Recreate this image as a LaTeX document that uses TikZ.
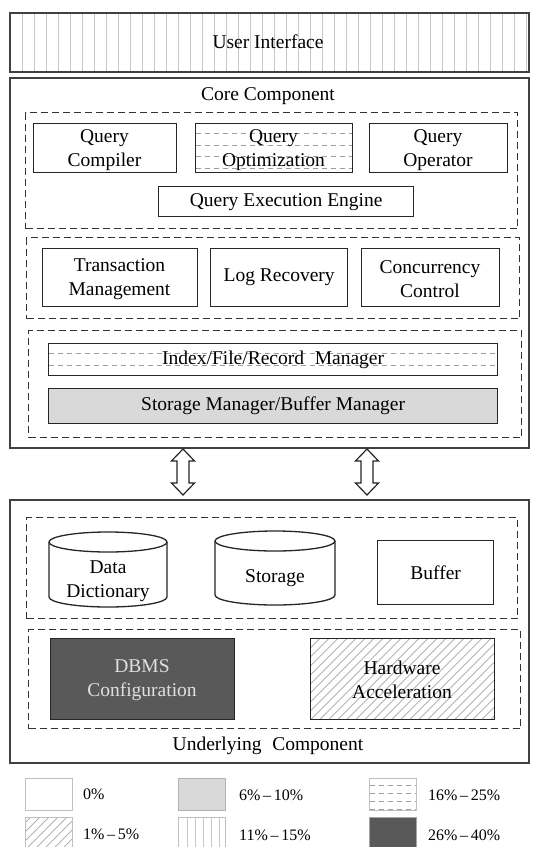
\documentclass[tikz,border=0pt]{standalone}
\usepackage{fontspec}
\setmainfont{Liberation Serif}
\definecolor{darkfill}{HTML}{595959}
\definecolor{lightfill}{HTML}{D9D9D9}
\begin{document}
\begin{tikzpicture}[x=1pt,y=-1pt,
  every node/.style={font=\fontsize{19.5}{24}\selectfont, align=center, inner sep=0pt},
  box/.style={draw=black!85, line width=1.3pt, fill=white, anchor=north west},
  twoline/.style={text depth=3pt},
  outer/.style={draw=black!75, line width=1.7pt, anchor=north west},
  group/.style={draw=black!80, line width=1.2pt, dash pattern=on 7pt off 4pt, anchor=north west},
  legbox/.style={draw=black!25, line width=1pt, fill=white, anchor=north west,
                 minimum width=47pt, minimum height=32pt},
  legtext/.style={anchor=west, font=\fontsize{16}{18}\selectfont},
  vlines/.style={path picture={\foreach \k in {1,...,60}{
      \draw[black!22, line width=0.9pt]
        ([xshift=\k*#1+1pt]path picture bounding box.south west) --
        ([xshift=\k*#1+1pt]path picture bounding box.north west);}}},
  hlines/.style={path picture={\foreach \k in {1,...,6}{
      \draw[black!38, line width=0.8pt, dash pattern=on 5pt off 4pt]
        ([yshift=-\k*#1+1.5pt]path picture bounding box.north west) --
        ([yshift=-\k*#1+1.5pt]path picture bounding box.north east);}}},
  hatch/.style={path picture={\foreach \k in {-30,...,30}{
      \draw[black!35, line width=0.7pt]
        ([xshift=\k*#1]path picture bounding box.south west) -- ++(120pt,120pt);}}},
  cyl/.style={draw=black!85, line width=1.3pt, fill=white},
  dblarrow/.style={draw=black!85, line width=1.2pt, fill=white}
]
\useasboundingbox (0,0) rectangle (538,847);

% top layer
\node[outer, vlines=12pt, minimum width=519pt, minimum height=59pt] (ui) at (9,12) {};
\node (uitext) at (268,42) {User Interface};

% core component
\node[outer, minimum width=519pt, minimum height=370pt] (core) at (9,77) {};
\node (coretitle) at (268,96) {Core Component};

\node[group, minimum width=492pt, minimum height=116pt] (g1) at (25,112) {};
\node[box, minimum width=143pt, minimum height=49pt] (qc) at (33,123) {};
\node (qct) at (104.5,150) {Query\\Compiler};
\node[box, hlines=11.5pt, minimum width=157pt, minimum height=49pt] (qo) at (195,123) {};
\node (qot) at (273.5,150) {Query\\Optimization};
\node[box, minimum width=138pt, minimum height=49pt] (qop) at (369,123) {};
\node (qopt) at (438,150) {Query\\Operator};
\node[box, minimum width=255pt, minimum height=30pt] (qee) at (158,186) {Query Execution Engine};

\node[group, minimum width=493pt, minimum height=81pt] (g2) at (26,237) {};
\node[box, minimum width=155pt, minimum height=58pt] (tm) at (42,248) {};
\node (tmt) at (119.5,279) {Transaction\\Management};
\node[box, minimum width=137pt, minimum height=58pt] (lr) at (210,248) {Log Recovery};
\node[box, minimum width=138pt, minimum height=58pt] (cc) at (361,248) {};
\node (cct) at (430,279) {Concurrency\\Control};

\node[group, minimum width=493pt, minimum height=107pt] (g3) at (28,330) {};
\node[box, hlines=11.5pt, minimum width=449pt, minimum height=32pt] (ifr) at (48,343) {Index/File/Record\hspace{0.3em} Manager};
\node[box, fill=lightfill, minimum width=449pt, minimum height=35pt] (sm) at (48,388) {Storage Manager/Buffer Manager};

% links between the two layers
\coordinate (a1) at (183,449);
\coordinate (a2) at (367,449);
\foreach \a in {a1,a2}{
  \draw[dblarrow] (\a) -- ++(11.5,12) -- ++(-5.5,0) -- ++(0,22) -- ++(5.5,0)
    -- ++(-11.5,12) -- ++(-11.5,-12) -- ++(5.5,0) -- ++(0,-22) -- ++(-5.5,0) -- cycle;
}

% underlying component
\node[outer, minimum width=519pt, minimum height=263pt] (under) at (9,499) {};
\node (undertitle) at (268,746) {Underlying\hspace{0.3em} Component};

\node[group, minimum width=491pt, minimum height=101pt] (g4) at (26,517) {};
% data dictionary cylinder
\draw[cyl] (49,542) -- (49,597) arc[start angle=180, end angle=360, x radius=59pt, y radius=10pt]
  -- (167,542) arc[start angle=0, end angle=180, x radius=59pt, y radius=10pt] -- cycle;
\draw[cyl, fill=none] (49,542) arc[start angle=180, end angle=360, x radius=59pt, y radius=10pt];
\node (dd) at (108,581) {Data\\Dictionary};
% storage cylinder
\draw[cyl] (215,541) -- (215,595) arc[start angle=180, end angle=360, x radius=60pt, y radius=10pt]
  -- (335,541) arc[start angle=0, end angle=180, x radius=60pt, y radius=10pt] -- cycle;
\draw[cyl, fill=none] (215,541) arc[start angle=180, end angle=360, x radius=60pt, y radius=10pt];
\node (st) at (275,578) {Storage};
\node[box, minimum width=116pt, minimum height=64pt] (buf) at (377,540) {Buffer};

\node[group, minimum width=492pt, minimum height=99pt] (g5) at (28,629) {};
\node[box, fill=darkfill, minimum width=184pt, minimum height=81pt] (dbms) at (50,638) {};
\node[text=white!88!black] (dbmst) at (142,680) {DBMS\\Configuration};
\node[box, hatch=9pt, minimum width=184pt, minimum height=81pt] (hw) at (310,638) {};
\node (hwt) at (402,680) {Hardware\\Acceleration};

% legend
\node[legbox] (l0) at (25,778) {};
\node[legtext] (t0) at (83,794) {0\%};
\node[legbox, fill=lightfill, draw=black!30] (l1) at (178,778) {};
\node[legtext] (t1) at (239,795) {6\%\,–\,10\%};
\node[legbox, hlines=8pt] (l2) at (369,778) {};
\node[legtext] (t2) at (428,795) {16\%\,–\,25\%};
\node[legbox, hatch=9pt] (l3) at (25,817) {};
\node[legtext] (t3) at (83,834) {1\%\,–\,5\%};
\node[legbox, vlines=8pt] (l4) at (178,817) {};
\node[legtext] (t4) at (239,835) {11\%\,–\,15\%};
\node[legbox, fill=darkfill, draw=black!35] (l5) at (369,817) {};
\node[legtext] (t5) at (428,835) {26\%\,–\,40\%};
\end{tikzpicture}
\end{document}
